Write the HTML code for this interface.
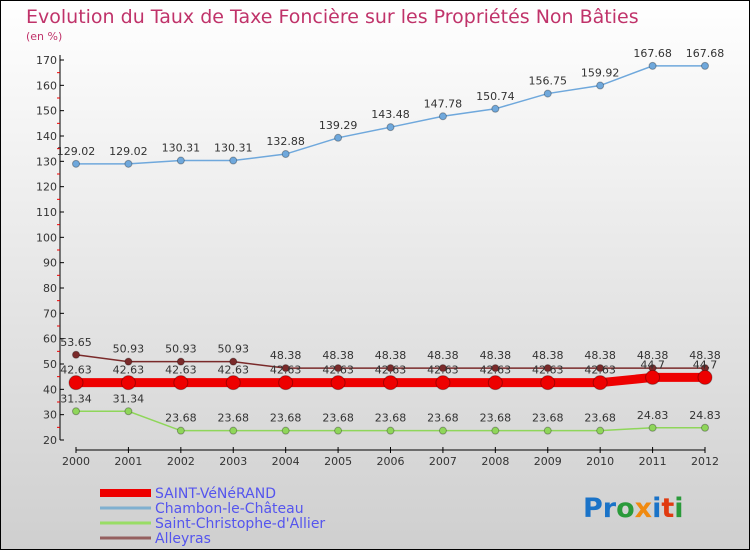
<!DOCTYPE html>
<html><head><meta charset="utf-8"><style>
body{margin:0}
#c{width:750px;height:550px;position:relative;overflow:hidden}
svg text{font-family:"DejaVu Sans","Liberation Sans",sans-serif}
</style></head><body>
<div id="c">
<svg id="s" width="750" height="550" xmlns="http://www.w3.org/2000/svg">
<defs><linearGradient id="bg" x1="0" y1="0" x2="0" y2="1"><stop offset="0" stop-color="#ffffff"/><stop offset="1" stop-color="#cfcfcf"/></linearGradient></defs>
<rect x="0.5" y="0.5" width="749" height="549" fill="url(#bg)" stroke="#000"/>
<text x="26" y="23" font-size="19" fill="#c0336a">Evolution du Taux de Taxe Foncière sur les Propriétés Non Bâties</text>
<text x="26" y="40" font-size="11" fill="#c0336a">(en %)</text>
<g id="axes"></g><g id="series"></g><g id="legend"></g>
<text x="583" y="517" font-size="27" font-weight="bold"><tspan fill="#1a73c8">Pr</tspan><tspan fill="#2a9a3a">o</tspan><tspan fill="#f08a10">x</tspan><tspan fill="#1a73c8">i</tspan><tspan fill="#e03a10">t</tspan><tspan fill="#2a9a3a">i</tspan></text>
</svg></div>
<script>
const years=[2000,2001,2002,2003,2004,2005,2006,2007,2008,2009,2010,2011,2012];
const yTicks=[20,30,40,50,60,70,80,90,100,110,120,130,140,150,160,170];
const stVenerand=[42.63,42.63,42.63,42.63,42.63,42.63,42.63,42.63,42.63,42.63,42.63,44.7,44.7];
const chambon=[129.02,129.02,130.31,130.31,132.88,139.29,143.48,147.78,150.74,156.75,159.92,167.68,167.68];
const stChristophe=[31.34,31.34,23.68,23.68,23.68,23.68,23.68,23.68,23.68,23.68,23.68,24.83,24.83];
const alleyras=[53.65,50.93,50.93,50.93,48.38,48.38,48.38,48.38,48.38,48.38,48.38,48.38,48.38];
const NS="http://www.w3.org/2000/svg";
function xs(i){return 76+i*(705-76)/(years.length-1);}
function ys(v){return 440-(v-20)*(380/150);}
function mk(p,t,a){const e=document.createElementNS(NS,t);for(const k in a)e.setAttribute(k,a[k]);p.appendChild(e);return e;}
const ax=document.getElementById('axes');
let l=mk(ax,'line',{x1:60,y1:55,x2:60,y2:440,stroke:'#000'});

yTicks.forEach(v=>{const y=ys(v);mk(ax,'line',{x1:60,y1:y,x2:64,y2:y,stroke:'#000'});
 if(v<170)mk(ax,'line',{x1:57,y1:ys(v+5),x2:60,y2:ys(v+5),stroke:'#e00'});
 const t=mk(ax,'text',{x:57,y:y+4,'font-size':11,fill:'#333','text-anchor':'end'});t.textContent=v;
 });
l=mk(ax,'line',{x1:76,y1:450,x2:705,y2:450,stroke:'#000'});

years.forEach((yr,i)=>{const x=xs(i);mk(ax,'line',{x1:x,y1:447,x2:x,y2:453,stroke:'#000'});
 const t=mk(ax,'text',{x:x,y:465,'font-size':11,fill:'#333','text-anchor':'middle'});t.textContent=yr;
 });
const sg=document.getElementById('series');
function draw(vals,col,w,r,name){const g=mk(sg,'g',{});
 
 mk(g,'polyline',{points:vals.map((v,i)=>xs(i)+','+ys(v)).join(' '),fill:'none',stroke:col,'stroke-width':w});
 vals.forEach((v,i)=>{const c=mk(g,'circle',{cx:xs(i),cy:ys(v),r:r,fill:col,stroke:'rgba(0,0,0,0.3)'});
  
  const t=mk(g,'text',{x:xs(i),y:ys(v)-9,'font-size':11,fill:'#333','text-anchor':'middle'});
  t.textContent=String(v);});}
draw(chambon,'#6fa8dc',1.5,3.5,'chambon');
draw(stChristophe,'#8fd65a',1.5,3.5,'st-christophe');
draw(alleyras,'#7a2a2a',1.5,3.5,'alleyras');
draw(stVenerand,'#ee0000',9,7,'st-venerand');
const lg=document.getElementById('legend');
[['SAINT-VéNéRAND','#ee0000',8],['Chambon-le-Château','#7fb0d0',3],['Saint-Christophe-d\'Allier','#99dd66',3],['Alleyras','#956060',3]].forEach((d,i)=>{
 const y=493+i*15;const g=mk(lg,'g',{});
 
 mk(g,'line',{x1:100,y1:y,x2:151,y2:y,stroke:d[1],'stroke-width':d[2]});
 const t=mk(g,'text',{x:155,y:y+5,'font-size':14,fill:'#5555ee'});t.textContent=d[0];});
</script></body></html>
